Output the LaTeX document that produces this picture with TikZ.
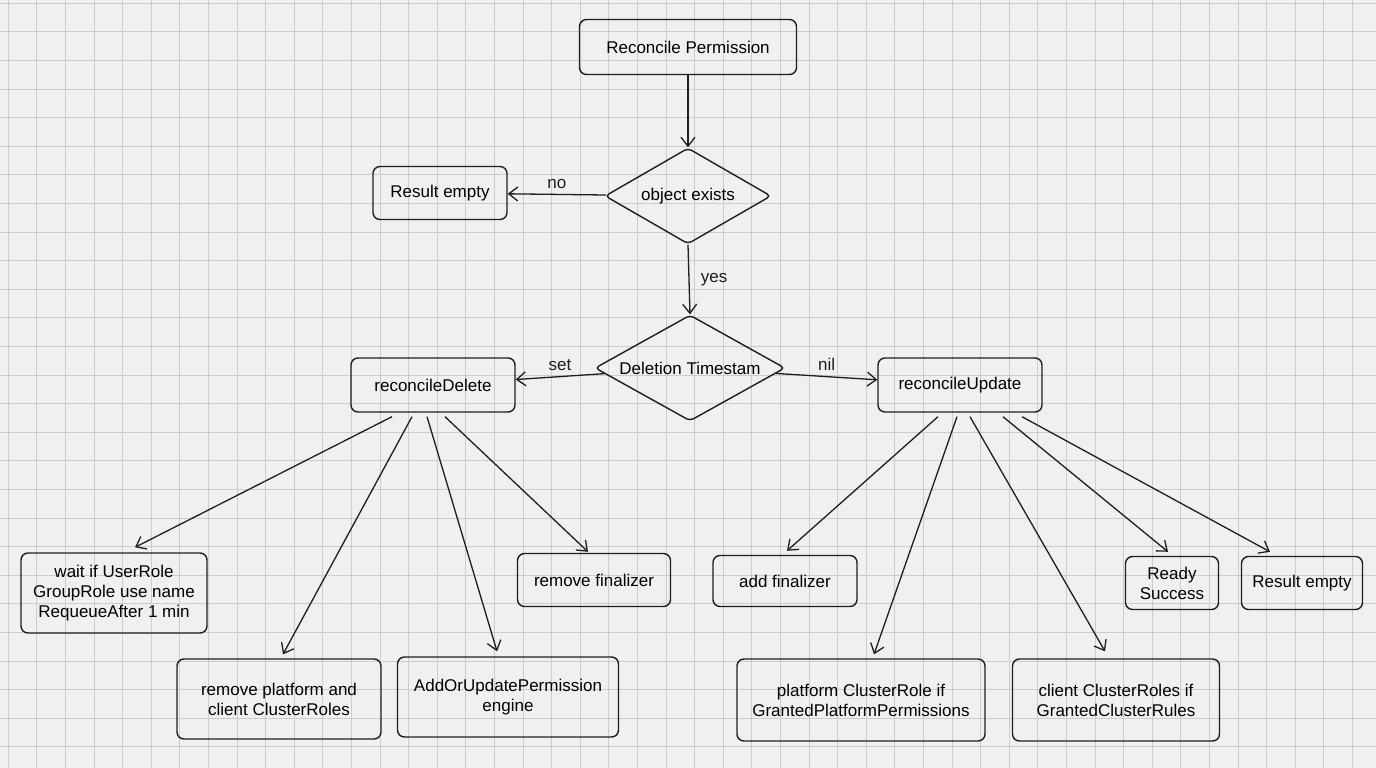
\documentclass[tikz,border=0pt]{standalone}
\usepackage{fontspec}
\setmainfont{Liberation Sans}
\usetikzlibrary{shapes.geometric,arrows.meta,calc}
\definecolor{bg}{HTML}{EEF0F1}
\definecolor{gridc}{HTML}{C9CDD1}
\definecolor{ink}{HTML}{1E1E1E}
\begin{document}
\begin{tikzpicture}[x=1pt,y=-1pt,
  box/.style={draw=ink,line width=1.4pt,rounded corners=7pt,align=center,font=\fontsize{17}{20}\selectfont,inner sep=0pt},
  dia/.style={draw=ink,line width=1.4pt,diamond,aspect=1.75,inner sep=0pt,font=\fontsize{17}{20}\selectfont,rounded corners=4pt},
  arr/.style={draw=ink,line width=1.3pt,-{Straight Barb[length=9pt,width=14pt]}},
  lbl/.style={font=\fontsize{17}{20}\selectfont,text=ink}]
\fill[bg] (0,0) rectangle (1376,768);
\useasboundingbox (0,0) rectangle (1376,768);
\foreach \i in {0,...,48} {\draw[gridc,line width=0.6pt] (8+28.6*\i,0) -- (8+28.6*\i,768);}
\foreach \i in {0,...,27} {\draw[gridc,line width=0.6pt] (0,3+28.6*\i) -- (1376,3+28.6*\i);}
\node[box,minimum width=217pt,minimum height=55pt] (rp) at (688,47) {Reconcile Permission};
\node[dia,minimum width=166pt,minimum height=96pt] (oe) at (688,196) {object exists};
\node[box,minimum width=134pt,minimum height=53pt] (re1) at (440,193) {Result empty};
\node[dia,minimum width=190pt,minimum height=106pt] (dt) at (690,368) {Deletion Timestam};
\node[box,minimum width=164pt,minimum height=54pt] (rd) at (433,385) {reconcileDelete};
\node[box,minimum width=164pt,minimum height=54pt] (ru) at (960,385) {reconcileUpdate};
\node[box,minimum width=186pt,minimum height=80pt] (wait) at (114,593) {wait if UserRole\\GroupRole use name\\RequeueAfter 1 min};
\node[box,minimum width=204pt,minimum height=80pt] (rpl) at (279,699) {remove platform and\\client ClusterRoles};
\node[box,minimum width=221pt,minimum height=80pt] (aou) at (508,697) {AddOrUpdatePermission\\engine};
\node[box,minimum width=153pt,minimum height=53pt] (rf) at (594,580) {remove finalizer};
\node[box,minimum width=144pt,minimum height=51pt] (af) at (785,581) {add finalizer};
\node[box,minimum width=248pt,minimum height=82pt] (pcr) at (861,700) {platform ClusterRole if\\GrantedPlatformPermissions};
\node[box,minimum width=207pt,minimum height=82pt] (ccr) at (1116,700) {client ClusterRoles if\\GrantedClusterRules};
\node[box,minimum width=93pt,minimum height=53pt] (rs) at (1172,583) {Ready\\Success};
\node[box,minimum width=121pt,minimum height=53pt] (re2) at (1302,583) {Result empty};
\draw[arr] (rp) -- (oe);
\draw[arr] (oe) -- (re1) node[lbl,midway,above=2pt] {no};
\draw[arr] (oe.south) -- (dt.north) node[lbl,midway,right=8pt] {yes};
\draw[arr] (dt) -- (rd) node[lbl,midway,above=2pt] {set};
\draw[arr] (dt) -- (ru) node[lbl,midway,above=2pt] {nil};
\draw[arr] ($(rd.south)+(-41,4)$) -- ($(wait.north)+(21,-5)$);
\draw[arr] ($(rd.south)+(-21,4)$) -- ($(rpl.north)+(4,-4)$);
\draw[arr] ($(rd.south)+(-6,4)$) -- ($(aou.north)+(-11,-5)$);
\draw[arr] ($(rd.south)+(12,4)$) -- ($(rf.north)+(-6,-1)$);
\draw[arr] ($(ru.south)+(-22,4)$) -- ($(af.north)+(2,-4)$);
\draw[arr] ($(ru.south)+(-3,4)$) -- ($(pcr.north)+(13,-4)$);
\draw[arr] ($(ru.south)+(10,4)$) -- ($(ccr.north)+(-11,-7)$);
\draw[arr] ($(ru.south)+(43,4)$) -- ($(rs.north)+(-4,-4)$);
\draw[arr] ($(ru.south)+(62,4)$) -- ($(re2.north)+(-32,-4)$);
\end{tikzpicture}
\end{document}
